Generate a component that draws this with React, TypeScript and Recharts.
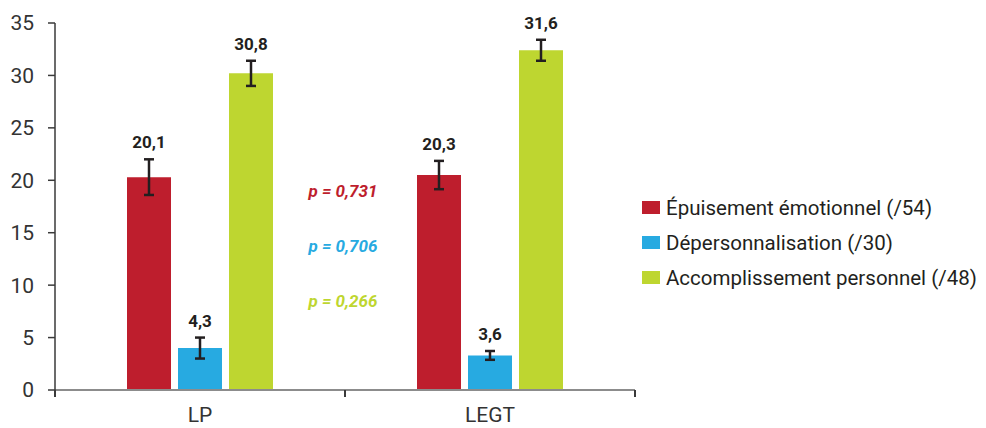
import { Bar, BarChart, ErrorBar, LabelList, XAxis, YAxis } from 'recharts';

const categories = ['LP', 'LEGT'];

// bar heights as drawn, and their printed labels (which differ slightly)
const epuisement = [20.3, 20.5];
const epuisementErr = [1.7, 1.35];
const epuisementLabels = ['20,1', '20,3'];

const deperso = [4.0, 3.3];
const depersoErr = [1.0, 0.42];
const depersoLabels = ['4,3', '3,6'];

const accomp = [30.2, 32.4];
const accompErr = [1.2, 1.0];
const accompLabels = ['30,8', '31,6'];

const yTicks = [0, 5, 10, 15, 20, 25, 30, 35];

const seriesNames = [
  'Épuisement émotionnel (/54)',
  'Dépersonnalisation (/30)',
  'Accomplissement personnel (/48)',
];
const seriesColors = ['#BE1E2D', '#27AAE1', '#BED630'];
const pValues = ['p = 0,731', 'p = 0,706', 'p = 0,266'];

const data = categories.map((name, i) => ({
  name,
  ep: epuisement[i],
  epErr: epuisementErr[i],
  dp: deperso[i],
  dpErr: depersoErr[i],
  ac: accomp[i],
  acErr: accompErr[i],
}));

const FONT = 'Roboto, sans-serif';
const INK = '#231f20';

function makeLabel(values: number[], errs: number[], labels: string[]) {
  return (props: any) => {
    const { x, y, width, height, index } = props;
    const perUnit = height / values[index];
    const top = y - errs[index] * perUnit;
    return (
      <text
        x={x + width / 2}
        y={top - 11}
        textAnchor="middle"
        fontFamily={FONT}
        fontWeight={700}
        fontSize={17}
        fill={INK}
      >
        {labels[index]}
      </text>
    );
  };
}

function CategoryTick(props: any) {
  const { x, y, payload, index } = props;
  const half = payload.offset ?? 0;
  return (
    <g>
      <line x1={x - half} x2={x - half} y1={y - 7} y2={y} stroke="#3a3a3a" strokeWidth={2} />
      {index === categories.length - 1 && (
        <line x1={x + half} x2={x + half} y1={y - 7} y2={y} stroke="#3a3a3a" strokeWidth={2} />
      )}
      <text x={x} y={y + 25} textAnchor="middle" fontFamily={FONT} fontSize={21} fill="#333">
        {payload.value}
      </text>
    </g>
  );
}

export default function App() {
  return (
    <div style={{ position: 'absolute', left: 0, top: 0, width: 986, height: 428, background: '#fff' }}>
      <BarChart
        width={986}
        height={428}
        data={data}
        margin={{ top: 23, right: 351, bottom: 8, left: 0 }}
        barSize={44}
        barGap={7}
      >
        <XAxis
          dataKey="name"
          height={30}
          tickSize={7}
          tickMargin={0}
          tickLine={false}
          axisLine={{ stroke: '#8c8c8c', strokeWidth: 2 }}
          tick={<CategoryTick />}
        />
        <YAxis
          width={55}
          domain={[0, 35]}
          ticks={yTicks}
          interval={0}
          tickSize={7}
          tickMargin={14}
          axisLine={{ stroke: '#3a3a3a', strokeWidth: 1.5 }}
          tickLine={{ stroke: '#3a3a3a', strokeWidth: 1.5 }}
          tick={{ fontFamily: FONT, fontSize: 21, fill: '#333' }}
        />
        <Bar dataKey="ep" fill={seriesColors[0]} isAnimationActive={false}>
          <ErrorBar dataKey="epErr" width={5} strokeWidth={2.5} stroke={INK} />
          <LabelList dataKey="ep" content={makeLabel(epuisement, epuisementErr, epuisementLabels)} />
        </Bar>
        <Bar dataKey="dp" fill={seriesColors[1]} isAnimationActive={false}>
          <ErrorBar dataKey="dpErr" width={5} strokeWidth={2.5} stroke={INK} />
          <LabelList dataKey="dp" content={makeLabel(deperso, depersoErr, depersoLabels)} />
        </Bar>
        <Bar dataKey="ac" fill={seriesColors[2]} isAnimationActive={false}>
          <ErrorBar dataKey="acErr" width={5} strokeWidth={2.5} stroke={INK} />
          <LabelList dataKey="ac" content={makeLabel(accomp, accompErr, accompLabels)} />
        </Bar>
      </BarChart>

      {pValues.map((p, i) => (
        <div
          key={p}
          style={{
            position: 'absolute',
            left: 243,
            width: 200,
            top: 180 + i * 55,
            textAlign: 'center',
            fontFamily: FONT,
            fontStyle: 'italic',
            fontWeight: 700,
            fontSize: 17,
            lineHeight: '22px',
            color: seriesColors[i],
          }}
        >
          {p}
        </div>
      ))}

      <div style={{ position: 'absolute', left: 642, top: 190 }}>
        {seriesNames.map((name, i) => (
          <div key={name} style={{ display: 'flex', alignItems: 'center', height: 35 }}>
            <span style={{ width: 18, height: 13, background: seriesColors[i], marginRight: 6 }} />
            <span style={{ fontFamily: FONT, fontSize: 20.5, color: INK, whiteSpace: 'nowrap' }}>{name}</span>
          </div>
        ))}
      </div>
    </div>
  );
}
